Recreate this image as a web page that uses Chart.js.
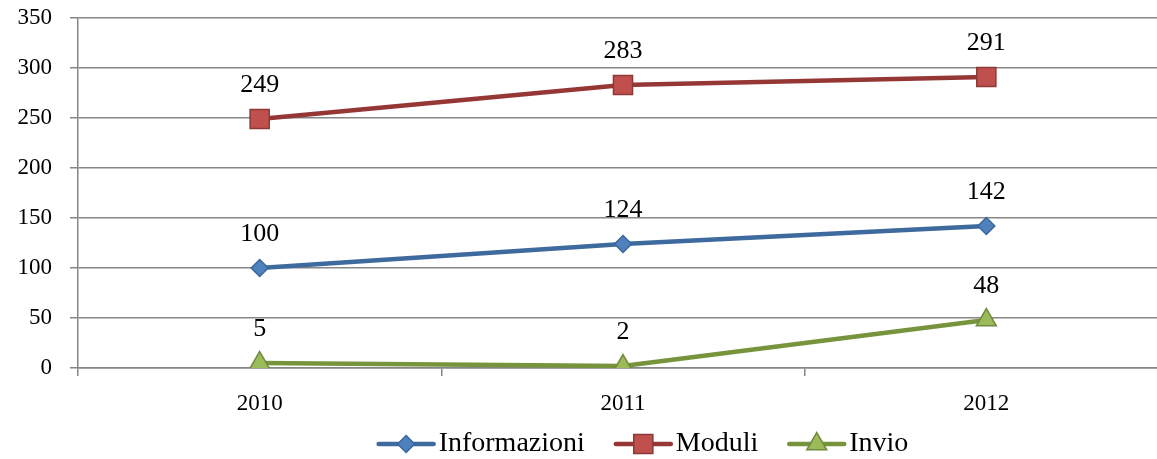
<!DOCTYPE html>
<html>
<head>
<meta charset="utf-8">
<script src="https://cdn.jsdelivr.net/npm/chart.js@4/dist/chart.umd.min.js"></script>
<style>
    html, body { margin: 0; padding: 0; overflow: hidden; background: #fff; }
    canvas { display: block; }
</style>
</head>
<body>
<canvas id="grafico" width="1183" height="459"></canvas>
<script>
var anni = ["2010", "2011", "2012"];
var informazioni = [100, 124, 142];
var moduli = [249, 283, 291];
var invio = [5, 2, 48];
var tickY = [0, 50, 100, 150, 200, 250, 300, 350];

var font = "'Liberation Serif', 'Times New Roman', serif";
var grigio = "#868686";

// disegna un marcatore (rombo, quadrato, triangolo)
function marcatore(ctx, tipo, x, y, r, fill, bordo) {
    ctx.save();
    ctx.beginPath();
    if (tipo == "rectRot") {
        ctx.moveTo(x, y - r);
        ctx.lineTo(x + r, y);
        ctx.lineTo(x, y + r);
        ctx.lineTo(x - r, y);
    } else if (tipo == "rect") {
        var s = r * Math.SQRT1_2;
        ctx.rect(x - s, y - s, 2 * s, 2 * s);
    } else {
        ctx.moveTo(x, y - r);
        ctx.lineTo(x + Math.sin(2 * Math.PI / 3) * r, y + r / 2);
        ctx.lineTo(x - Math.sin(2 * Math.PI / 3) * r, y + r / 2);
    }
    ctx.closePath();
    ctx.fillStyle = fill;
    ctx.fill();
    ctx.lineWidth = 1.5;
    ctx.strokeStyle = bordo;
    ctx.stroke();
    ctx.restore();
}

var etichette = {
    id: "etichette",
    afterDatasetsDraw: function (chart) {
        var ctx = chart.ctx;
        ctx.save();
        ctx.font = "26px " + font;
        ctx.fillStyle = "#000";
        ctx.textAlign = "center";
        ctx.textBaseline = "middle";
        chart.data.datasets.forEach(function (ds, i) {
            chart.getDatasetMeta(i).data.forEach(function (pt, j) {
                ctx.fillText(ds.data[j], pt.x, pt.y - 34);
            });
        });
        ctx.restore();
    }
};

var legenda = {
    id: "legenda",
    afterDraw: function (chart) {
        var ctx = chart.ctx;
        var y = 444;
        ctx.save();
        ctx.font = "28px " + font;
        var lung = 55, gap = 5, spazio = 31;
        var tot = 0;
        chart.data.datasets.forEach(function (ds, i) {
            tot += lung + gap + ctx.measureText(ds.label).width;
            if (i < chart.data.datasets.length - 1) tot += spazio;
        });
        var x = 643.5 - tot / 2;
        chart.data.datasets.forEach(function (ds) {
            ctx.strokeStyle = ds.borderColor;
            ctx.lineWidth = 4.5;
            ctx.lineCap = "round";
            ctx.beginPath();
            ctx.moveTo(x, y);
            ctx.lineTo(x + lung, y);
            ctx.stroke();
            marcatore(ctx, ds.pointStyle, x + lung / 2, y, ds.pointRadius, ds.pointBackgroundColor, ds.pointBorderColor);
            x += lung + gap;
            ctx.fillStyle = "#000";
            ctx.textAlign = "left";
            ctx.textBaseline = "middle";
            ctx.fillText(ds.label, x, y);
            x += ctx.measureText(ds.label).width + spazio;
        });
        ctx.restore();
    }
};

var ctx = document.getElementById("grafico");
var grafico = new Chart(ctx, {
    type: "line",
    data: {
        labels: anni,
        datasets: [{
            label: "Informazioni",
            data: informazioni,
            borderColor: "#3F6A9E",
            borderWidth: 4.5,
            pointStyle: "rectRot",
            pointRadius: 8.5,
            pointBackgroundColor: "#4F81BD",
            pointBorderColor: "#3A679C",
            pointBorderWidth: 1.5
        }, {
            label: "Moduli",
            data: moduli,
            borderColor: "#953735",
            borderWidth: 4.5,
            pointStyle: "rect",
            pointRadius: 13.5,
            pointBackgroundColor: "#C0504D",
            pointBorderColor: "#8C3836",
            pointBorderWidth: 1.5
        }, {
            label: "Invio",
            data: invio,
            borderColor: "#77933C",
            borderWidth: 4.5,
            pointStyle: "triangle",
            pointRadius: 11.5,
            pointBackgroundColor: "#9BBB59",
            pointBorderColor: "#71893F",
            pointBorderWidth: 1.5
        }]
    },
    options: {
        responsive: false,
        animation: false,
        layout: { padding: { top: 18, right: 0, left: 0, bottom: 0 } },
        plugins: {
            legend: { display: false },
            tooltip: { enabled: false }
        },
        scales: {
            x: {
                offset: true,
                grid: { offset: true, drawOnChartArea: false, color: grigio, lineWidth: 1.5, tickLength: 8 },
                border: { color: grigio, width: 1.5 },
                ticks: { color: "#000", font: { family: font, size: 23 }, padding: 14, maxRotation: 0 },
                afterFit: function (s) {
                    s.height = 91;
                    s.paddingLeft = 0; s.paddingRight = 0;
                }
            },
            y: {
                min: 0,
                max: 350,
                afterBuildTicks: function (s) { s.ticks = tickY.map(function (v) { return { value: v }; }); },
                grid: { color: grigio, lineWidth: 1.5, tickLength: 8 },
                border: { color: grigio, width: 1.5 },
                ticks: { color: "#000", font: { family: font, size: 23 }, padding: 18 },
                afterFit: function (s) {
                    s.width = 78;
                    s.paddingTop = 0; s.paddingBottom = 0;
                }
            }
        }
    },
    plugins: [etichette, legenda]
});
</script>
</body>
</html>
